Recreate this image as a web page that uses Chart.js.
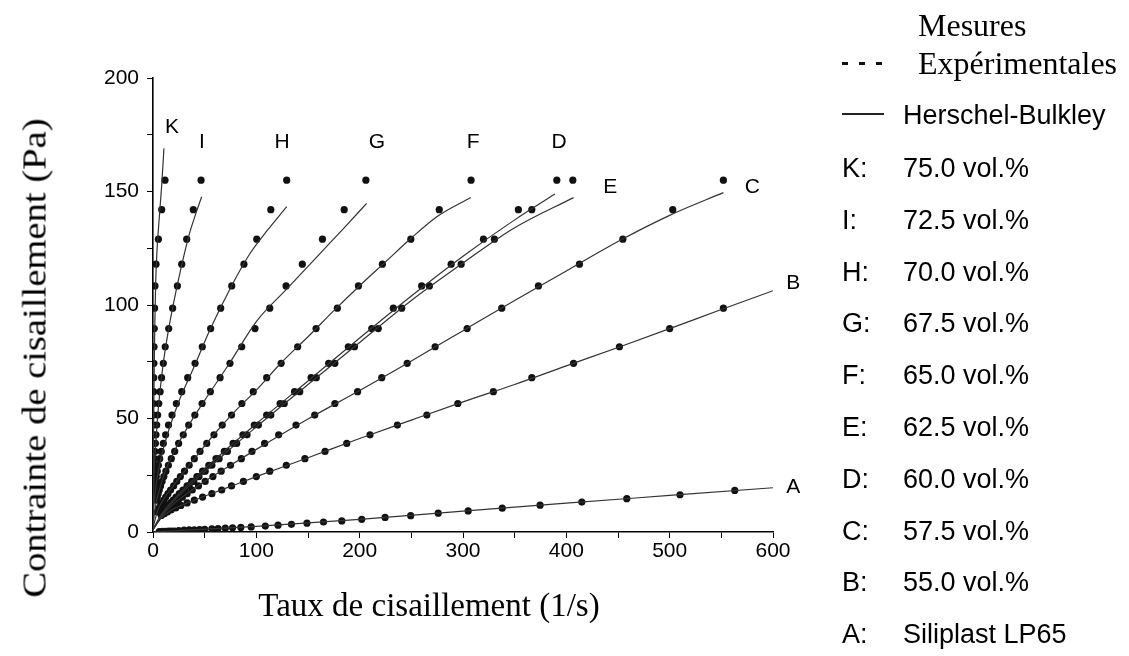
<!DOCTYPE html>
<html lang="fr">
<head>
<meta charset="utf-8">
<title>Contrainte de cisaillement - Herschel-Bulkley</title>
<script src="https://cdn.jsdelivr.net/npm/chart.js@4.4.1/dist/chart.umd.min.js"></script>
<style>
    body { margin: 0; background: #fff; }
    .wrap { position: relative; width: 1129px; height: 656px; overflow: hidden; }
    canvas { position: absolute; left: 0; top: 0; }
    .txt { position: absolute; white-space: nowrap; line-height: 1; color: #000; }
    .serif { font-family: "Liberation Serif", "Times New Roman", serif; font-size: 32px; }
    .sans { font-family: "Liberation Sans", Arial, sans-serif; font-size: 27px; }
    .mk { position: absolute; height: 3px; }
    .mk.dots { background: repeating-linear-gradient(to right, #111 0 6px, transparent 6px 17px); }
    .mk.line { height: 1.5px; background: #222; }
</style>
</head>
<body>
<div class="wrap" id="wrap">
    <canvas id="chart" width="1129" height="656"></canvas>
</div>
<script>
// shear stress levels of the stress ramp (Pa), shared by B..K
const stressLevels = [155, 142, 129, 118, 108.4, 98.6, 89.6, 81.6, 74.3, 68, 61.8, 56.6, 51.5, 47.1, 42.8, 39, 35.5, 32.3, 29.4, 26.8, 24.4, 22.3, 20.3, 18.5, 16.9, 15.4, 14, 12.8, 11.7, 10.6, 9.7, 8.8, 8, 7.3, 6.6, 6];

// measured shear rates (1/s) at each stress level
const rateK = [11.6, 8.4, 5.2, 2.9, 1.9, 1.5, 1.2, 1.0, 0.85, 0.7, 0.6, 0.5, 0.45, 0.4, 0.35, 0.3];
const rateI = [46.5, 39, 32.6, 27.8, 23.6, 19, 15.2, 11.8, 10, 8.3, 6.9, 5.6, 4.5, 3.6, 2.9, 2.3, 1.8, 1.4, 1.1, 0.8, 0.6, 0.5, 0.4];
const rateH = [129.4, 114, 100.4, 88, 76.2, 65.5, 55.8, 47.7, 40.7, 33.6, 27.8, 22.6, 18.4, 15, 12.2, 10, 8, 6.5, 5.2, 4.1, 3.2, 2.5, 1.9, 1.5, 1.1];
const rateG = [206, 185, 164, 144.5, 128.8, 113, 98.7, 85.9, 74.5, 64.9, 55.5, 47.5, 40.5, 34.5, 29.3, 24.8, 21, 17.7, 14.9, 12.5, 10.5, 8.8, 7.3, 6.1, 5, 4.1, 3.4];
const rateF = [307.8, 277, 249.5, 222, 198.8, 178.4, 157.8, 140, 124, 110, 97, 86, 76, 67, 59, 52, 45.5, 40, 35, 30.5, 26.5, 23, 20, 17, 14.5, 12.3, 10.4, 8.8, 7.4, 6.2, 5.2, 4.3];
const rateE = [406.3, 366.6, 330.4, 298.2, 267.5, 240.7, 218, 195, 176, 158, 142, 127, 114, 102, 91, 81, 72, 64, 57, 50.5, 44.5, 39.5, 35, 31, 27, 23.7, 20.7, 18, 15.6, 13.5, 11.7, 10.1, 8.7];
const rateD = [390.8, 353.6, 319.8, 288.5, 260, 232.6, 211.7, 189, 170, 153, 137, 123, 110, 98, 87, 77.5, 69, 61, 54, 48, 42.5, 37.5, 33, 29, 25.5, 22.3, 19.5, 17, 14.8, 12.8, 11, 9.5, 8.1];
const rateC = [552, 503, 454.7, 412.7, 373, 337.5, 304, 273, 246, 221.4, 198, 176, 156.5, 138.4, 121.6, 108, 95.8, 85.5, 75, 66, 58, 50.5, 44, 38, 33, 28.5, 24.5, 21, 18, 15.4, 13.2, 11.2, 9.5, 8];
const rateB = [null, null, null, null, null, 552, 500, 451.4, 407, 366.6, 329.4, 295, 265, 236.5, 210, 187.5, 166.5, 147, 129, 113, 100, 87.5, 76, 66.5, 57, 48, 40, 33, 27, 22, 17.5, 14, 11];

// Siliplast (A) was measured on its own rate ramp
const rateA = [6, 9, 12, 15, 18, 21, 25, 30, 35, 40, 45, 50, 57, 63, 70, 77, 85, 95, 108.7, 121, 134, 149, 165, 182.7, 202, 224.6, 249.4, 276, 305, 338, 374.6, 415, 458.5, 510, 563];
const stressA = [0.2, 0.25, 0.3, 0.35, 0.4, 0.45, 0.6, 0.8, 0.9, 1.0, 1.1, 1.2, 1.35, 1.5, 1.7, 1.85, 2.0, 2.25, 2.6, 3.0, 3.4, 3.9, 4.4, 4.9, 5.6, 6.4, 7.2, 8.3, 9.3, 10.5, 11.8, 13.2, 14.7, 16.4, 18.3];

// Herschel-Bulkley fitted curves, read as [rate, stress] pairs
const fitK = [[0, 5], [0.5, 40], [1, 65], [1.7, 90], [2.6, 110], [4, 125], [6, 138], [8.3, 152], [10.6, 169]];
const fitI = [[0, 5], [1, 26], [2.5, 38], [4.5, 51], [7, 63], [10, 74.5], [15, 89], [20, 101], [27, 116], [35, 131], [42, 141], [47.1, 147.7]];
const fitH = [[0, 3], [1, 12], [2, 17], [4, 24], [8, 33], [15, 44.5], [25, 57.5], [40, 73], [55, 89], [76, 108.4], [94, 122.8], [110, 132.5], [129.4, 143.3]];
const fitG = [[0, 3], [3, 13], [5, 16.5], [10, 24.4], [20, 35], [35, 47.3], [50, 58], [75, 75], [100, 92.7], [130, 107.3], [160, 121.9], [185, 134], [206.8, 144.8]];
const fitF = [[0, 2], [5, 10], [10, 14.2], [20, 20.5], [40, 32.2], [60, 43.5], [80, 53.5], [100, 62.5], [125, 75], [150, 86], [175, 97.5], [200, 108.5], [225, 119], [250, 129.5], [275, 139], [307.5, 147.4]];
const fitE = [[0, 1], [5, 5], [10, 8.5], [20, 13.7], [40, 22.4], [70, 34.7], [100, 46.3], [150, 65], [200, 83.5], [250, 102], [300, 118.5], [350, 134], [407, 147.3]];
const fitD = [[0, 1], [5, 5.5], [10, 9], [20, 14.3], [40, 23.5], [70, 36], [100, 47.7], [150, 66.5], [200, 85.5], [250, 104], [300, 121.5], [350, 137.5], [389, 148.9]];
const fitC = [[0, 1], [5, 4.5], [10, 7.8], [20, 12.4], [40, 19.2], [70, 28], [100, 36.4], [150, 49.8], [200, 62.3], [250, 75.3], [300, 88.7], [350, 102], [400, 115], [450, 128], [500, 139.5], [552, 149.5]];
const fitB = [[0, 1], [5, 4.5], [10, 7], [20, 10.2], [40, 14], [70, 19.2], [100, 24.4], [150, 32.7], [200, 41.2], [250, 49.3], [300, 57.3], [350, 65], [400, 73.2], [450, 81.3], [500, 89.6], [550, 98], [600, 106.3]];
const fitA = [[0, 0], [100, 2.5], [200, 5.6], [300, 9.2], [400, 12.7], [500, 16.1], [600, 19.5]];

// curve letters and where they sit (rate, stress)
const curveNames = ['K', 'I', 'H', 'G', 'F', 'E', 'D', 'C', 'B', 'A'];
const labelRate = [18.4, 47.4, 124.9, 216.8, 309.8, 442.4, 393, 580, 619.6, 619.6];
const labelStress = [178.4, 171.8, 171.8, 171.8, 171.8, 152, 171.8, 152, 109.7, 19.8];

// legend texts
const legendDesc = ['75.0 vol.%', '72.5 vol.%', '70.0 vol.%', '67.5 vol.%', '65.0 vol.%', '62.5 vol.%', '60.0 vol.%', '57.5 vol.%', '55.0 vol.%', 'Siliplast LP65'];

const xTicks = [0, 100, 200, 300, 400, 500, 600];
const yTicks = [0, 50, 100, 150, 200];

// -------------------------------------------------------------------
const rates = [rateK, rateI, rateH, rateG, rateF, rateE, rateD, rateC, rateB];
const fits = [fitK, fitI, fitH, fitG, fitF, fitE, fitD, fitC, fitB, fitA];

const datasets = [];
fits.forEach(fit => {
    datasets.push({
        data: fit.map(p => ({ x: p[0], y: p[1] })),
        showLine: true,
        borderColor: '#333',
        borderWidth: 1.2,
        pointRadius: 0,
        cubicInterpolationMode: 'monotone'
    });
});
rates.forEach(r => {
    const pts = [];
    r.forEach((x, i) => { if (x !== null) pts.push({ x: x, y: stressLevels[i] }); });
    datasets.push({ data: pts, showLine: false, pointRadius: 3.6, pointBackgroundColor: '#111', pointBorderWidth: 0 });
});
datasets.push({
    data: rateA.map((x, i) => ({ x: x, y: stressA[i] })),
    showLine: false, pointRadius: 3.6, pointBackgroundColor: '#111', pointBorderWidth: 0
});

const curveLetters = {
    id: 'curveLetters',
    afterDatasetsDraw(chart) {
        const c = chart.ctx;
        const xs = chart.scales.x, ys = chart.scales.y;
        c.save();
        c.fillStyle = '#000';
        c.font = '21px "Liberation Sans", Arial, sans-serif';
        c.textAlign = 'center';
        c.textBaseline = 'middle';
        curveNames.forEach((n, i) => {
            c.fillText(n, xs.getPixelForValue(labelRate[i]), ys.getPixelForValue(labelStress[i]));
        });
        c.restore();
    }
};

const tickFont = { family: '"Liberation Sans", Arial, sans-serif', size: 21 };

new Chart(document.getElementById('chart'), {
    type: 'scatter',
    data: { datasets },
    options: {
        responsive: false,
        animation: false,
        layout: { padding: { left: 0, right: 356, top: 78, bottom: 0 } },
        plugins: { legend: { display: false }, tooltip: { enabled: false } },
        scales: {
            x: {
                type: 'linear', min: 0, max: 600,
                afterFit: s => { s.height = 124; },
                border: { color: '#000', width: 1.6 },
                grid: { drawOnChartArea: false, color: '#000', tickLength: 6 },
                ticks: {
                    stepSize: 50, color: '#000', font: tickFont, padding: 1, maxRotation: 0,
                    callback: v => xTicks.includes(v) ? v : ''
                }
            },
            y: {
                type: 'linear', min: 0, max: 200,
                afterFit: s => { s.width = 153; },
                border: { color: '#000', width: 1.6 },
                grid: { drawOnChartArea: false, color: '#000', tickLength: 6 },
                ticks: {
                    stepSize: 25, color: '#000', font: tickFont, padding: 8,
                    callback: v => yTicks.includes(v) ? v : ''
                }
            }
        }
    },
    plugins: [curveLetters]
});

// axis titles and legend as HTML text
const wrap = document.getElementById('wrap');
function addText(cls, text, left, midY) {
    const d = document.createElement('div');
    d.className = 'txt ' + cls;
    d.textContent = text;
    d.style.left = left + 'px';
    d.style.top = midY + 'px';
    d.style.transform = 'translateY(-50%)';
    wrap.appendChild(d);
    return d;
}
const yTitle = addText('serif', 'Contrainte de cisaillement (Pa)', 35, 358);
yTitle.style.fontSize = '33px';
yTitle.style.transform = 'translate(-50%, -50%) rotate(-90deg) scaleX(1.17)';
const xTitle = addText('serif', 'Taux de cisaillement (1/s)', 429, 605);
xTitle.style.fontSize = '33px';
xTitle.style.transform = 'translate(-50%, -50%)';

addText('serif', 'Mesures', 918, 25);
addText('serif', 'Expérimentales', 918, 63);
addText('sans', 'Herschel-Bulkley', 903, 115);

const m1 = document.createElement('div');
m1.className = 'mk dots';
Object.assign(m1.style, { left: '842px', top: '62px', width: '40px' });
wrap.appendChild(m1);
const m2 = document.createElement('div');
m2.className = 'mk line';
Object.assign(m2.style, { left: '842px', top: '113px', width: '42px' });
wrap.appendChild(m2);

curveNames.forEach((n, i) => {
    const y = 168 + i * 51.8;
    addText('sans', n + ':', 842, y);
    addText('sans', legendDesc[i], 903, y);
});
</script>
</body>
</html>
